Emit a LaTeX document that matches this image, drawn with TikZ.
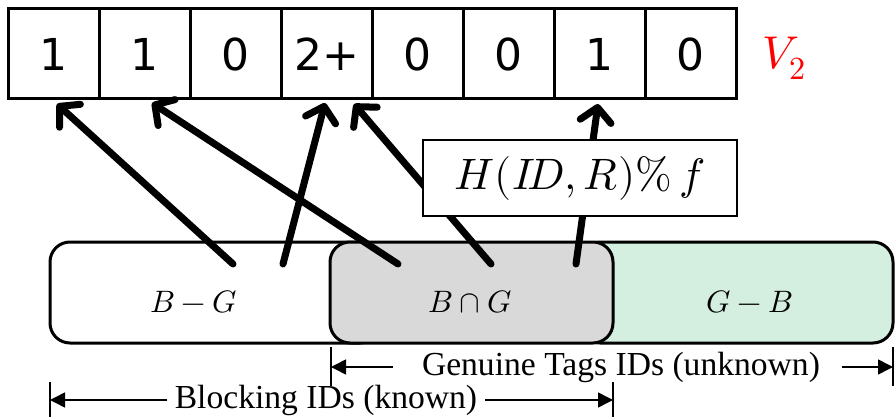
\documentclass[tikz,border=0pt]{standalone}
\usepackage{fontspec}
\usepackage{unicode-math}
\setmainfont{Liberation Serif}
\setmathfont{Latin Modern Math}
\newfontfamily\cellfont{DejaVu Sans}
\usetikzlibrary{arrows.meta}

\definecolor{setgray}{RGB}{217,217,217}
\definecolor{setgreen}{RGB}{212,239,223}
\definecolor{vred}{RGB}{255,0,0}

\tikzset{
  cell/.style={draw, line width=3pt, minimum width=91pt, minimum height=90pt,
    inner sep=0pt, font=\cellfont\fontsize{44}{50}\selectfont},
  setbox/.style={draw, line width=3pt, rounded corners=20pt, minimum height=101pt,
    inner sep=0pt},
  setlabel/.style={inner sep=0pt, font=\fontsize{31}{34}\selectfont},
  hasharrow/.style={line width=7pt, line cap=round,
    -{Straight Barb[length=14pt, width=31pt, line cap=round, line join=round]}},
  tick/.style={line width=2.5pt},
  dimarrow/.style={line width=1.5pt, -{Triangle[length=15pt, width=15pt]}},
  dimtext/.style={inner sep=0pt, font=\fontsize{33.6}{36}\selectfont},
}

\begin{document}
\begin{tikzpicture}[x=1pt, y=-1pt]
\useasboundingbox (0,0) rectangle (895,417);

% bit vector V_2
\node[cell] (c1) at (53.5,54) {1};
\node[cell] (c2) at (144.5,54) {1};
\node[cell] (c3) at (235.5,54) {0};
\node[cell] (c4) at (326.5,54) {2+};
\node[cell] (c5) at (417.5,54) {0};
\node[cell] (c6) at (508.5,54) {0};
\node[cell] (c7) at (599.5,54) {1};
\node[cell] (c8) at (690.5,54) {0};
\node[text=vred, inner sep=0pt, font=\fontsize{46}{50}\selectfont] (v2) at (784,58) {$V_2$};

% ID sets
\node[setbox, fill=white, minimum width=330pt] (bset) at (215,292.5) {};
\node[setbox, fill=setgreen, minimum width=313pt] (gset) at (736.5,292.5) {};
\node[setbox, fill=setgray, minimum width=283pt] (iset) at (471.5,292.5) {};
\node[setlabel] (blab) at (194,302) {$B-G$};
\node[setlabel] (ilab) at (470,302) {$B\cap G$};
\node[setlabel] (glab) at (750,302) {$G-B$};

% hashed IDs mapped to slots
\coordinate (s1) at (233,264);
\coordinate (s2) at (398,264);
\coordinate (s3) at (283,264);
\coordinate (s4) at (491,264);
\coordinate (s5) at (576,264);
\coordinate (t1) at (57,104);
\coordinate (t2) at (152,103);
\coordinate (t3) at (325,103);
\coordinate (t4) at (354,104);
\coordinate (t5) at (598,104);
\draw[hasharrow] (s1) -- (t1);
\draw[hasharrow] (s2) -- (t2);
\draw[hasharrow] (s3) -- (t3);
\draw[hasharrow] (s4) -- (t4);
\draw[hasharrow] (s5) -- (t5);

% hash function
\node[draw, line width=2.5pt, fill=white, minimum width=314pt, minimum height=76pt,
  inner sep=0pt, font=\fontsize{44}{48}\selectfont] (hash) at (580,178) {$H(I\!D,R)\%\,f$};

% extent of genuine tag IDs
\coordinate (gA) at (331,347);
\coordinate (gB) at (331,386);
\coordinate (gC) at (893,347);
\coordinate (gD) at (893,386);
\draw[tick] (gA) -- (gB);
\draw[tick] (gC) -- (gD);
\node[dimtext] (gtext) at (621,367) {Genuine Tags IDs (unknown)};
\coordinate (gL) at (331,367);
\coordinate (gR) at (893,367);
\coordinate (gL0) at (393,367);
\coordinate (gR0) at (842,367);
\draw[dimarrow] (gL0) -- (gL);
\draw[dimarrow] (gR0) -- (gR);

% extent of blocking IDs
\coordinate (bA) at (50,382);
\coordinate (bB) at (50,417);
\coordinate (bC) at (613,382);
\coordinate (bD) at (613,417);
\draw[tick] (bA) -- (bB);
\draw[tick] (bC) -- (bD);
\node[dimtext] (btext) at (326,400) {Blocking IDs (known)};
\coordinate (bL) at (50,400);
\coordinate (bR) at (613,400);
\coordinate (bL0) at (167,400);
\coordinate (bR0) at (485,400);
\draw[dimarrow] (bL0) -- (bL);
\draw[dimarrow] (bR0) -- (bR);
\end{tikzpicture}
\end{document}
